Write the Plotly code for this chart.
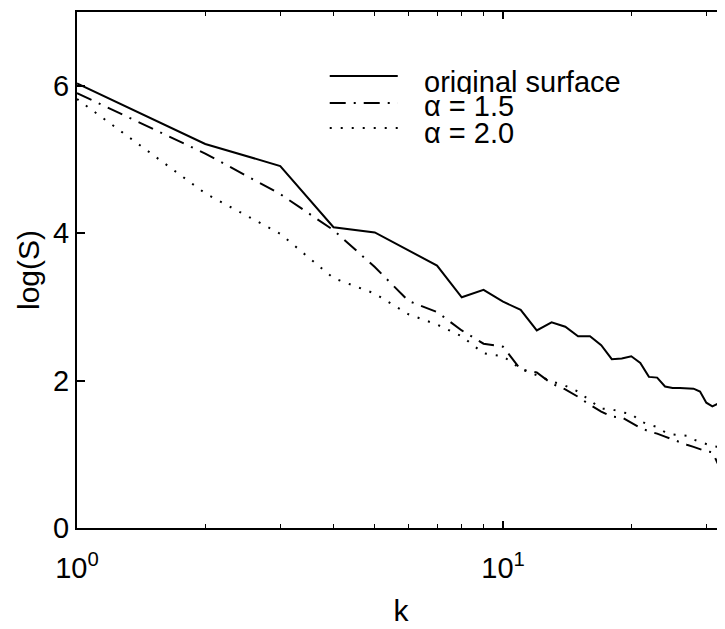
import plotly.graph_objects as go

# ---- data ----
k = list(range(1, 33))

original_surface = [6.03, 5.21, 4.91, 4.08, 4.01, 3.77, 3.56, 3.13, 3.23, 3.07,
                    2.96, 2.68, 2.79, 2.73, 2.60, 2.60, 2.48, 2.29, 2.30, 2.33,
                    2.24, 2.05, 2.04, 1.92, 1.90, 1.90, 1.90, 1.89, 1.85, 1.70,
                    1.65, 1.69]

alpha_15 = [5.90, 5.08, 4.53, 4.04, 3.54, 3.08, 2.93, 2.68, 2.50, 2.46,
            2.15, 2.11, 1.96, 1.88, 1.78, 1.67, 1.58, 1.51, 1.50, 1.43,
            1.36, 1.31, 1.28, 1.24, 1.20, 1.16, 1.13, 1.10, 1.07, 1.04,
            1.03, 0.86]

alpha_20 = [5.82, 4.54, 3.99, 3.39, 3.18, 2.90, 2.76, 2.60, 2.37, 2.33,
            2.16, 2.07, 1.99, 1.93, 1.85, 1.73, 1.62, 1.61, 1.57, 1.55,
            1.45, 1.40, 1.37, 1.30, 1.27, 1.26, 1.25, 1.20, 1.17, 1.14,
            1.11, 1.10]

series_names = ["original surface", "\u03b1 = 1.5", "\u03b1 = 2.0"]
x_tick_vals = [1, 10]
x_tick_text = ["10<sup>0</sup>", "10<sup>1</sup>"]
x_minor_vals = [2, 3, 4, 5, 6, 7, 8, 9, 20, 30]
y_tick_vals = [0, 2, 4, 6]

FONT = "Liberation Sans, Arial, Helvetica, sans-serif"
DASHES = ["solid", "16px,8px,2px,8px", "2px,9px"]
series = [original_surface, alpha_15, alpha_20]

fig = go.Figure()
for name, vals, dash in zip(series_names, series, DASHES):
    fig.add_trace(go.Scatter(x=k, y=vals, mode="lines", name=name,
                             line=dict(color="black", width=2, dash=dash),
                             showlegend=False))

# manual legend (line samples + labels) in the upper middle of the plot
leg_x0, leg_x1, leg_tx = 0.390, 0.495, 0.533
leg_line_y = [0.876, 0.8236, 0.775]
leg_text_y = [0.864, 0.818, 0.766]
for name, dash, ly, ty in zip(series_names, DASHES, leg_line_y, leg_text_y):
    fig.add_shape(type="line", xref="paper", yref="paper",
                  x0=leg_x0, x1=leg_x1, y0=ly, y1=ly,
                  line=dict(color="black", width=2, dash=dash))
    fig.add_annotation(xref="paper", yref="paper", x=leg_tx, y=ty,
                       text=name, showarrow=False, xanchor="left",
                       yanchor="middle", height=24, valign="middle",
                       font=dict(family=FONT, size=29, color="black"))

axis_common = dict(showline=True, linewidth=2, linecolor="black",
                   mirror="ticks", ticks="inside", tickcolor="black",
                   showgrid=False, zeroline=False, automargin=False,
                   tickfont=dict(family=FONT, size=29, color="black"))

fig.update_xaxes(type="log", range=[0, 1.521], tickmode="array",
                 tickvals=x_tick_vals, ticktext=x_tick_text,
                 ticklen=7, tickwidth=1.5, ticklabelstandoff=13,
                 minor=dict(tickmode="array", tickvals=x_minor_vals,
                            ticks="inside", ticklen=4, tickwidth=1.2,
                            tickcolor="black", showgrid=False),
                 title=dict(text="k", standoff=17,
                            font=dict(family=FONT, size=30, color="black")),
                 **axis_common)
fig.update_yaxes(range=[0, 7], tickmode="array", tickvals=y_tick_vals,
                 ticklen=8, tickwidth=1.5, ticklabelstandoff=0,
                 title=dict(text="log(S)", standoff=5,
                            font=dict(family=FONT, size=30, color="black")),
                 **axis_common)

# the page body adds an 8px offset, so the figure is sized to end at the window edge
fig.update_layout(width=717, height=621,
                  margin=dict(l=69, r=0, t=4, b=101),
                  paper_bgcolor="white", plot_bgcolor="white",
                  font=dict(family=FONT, color="black"))

fig.write_html("out.html")
